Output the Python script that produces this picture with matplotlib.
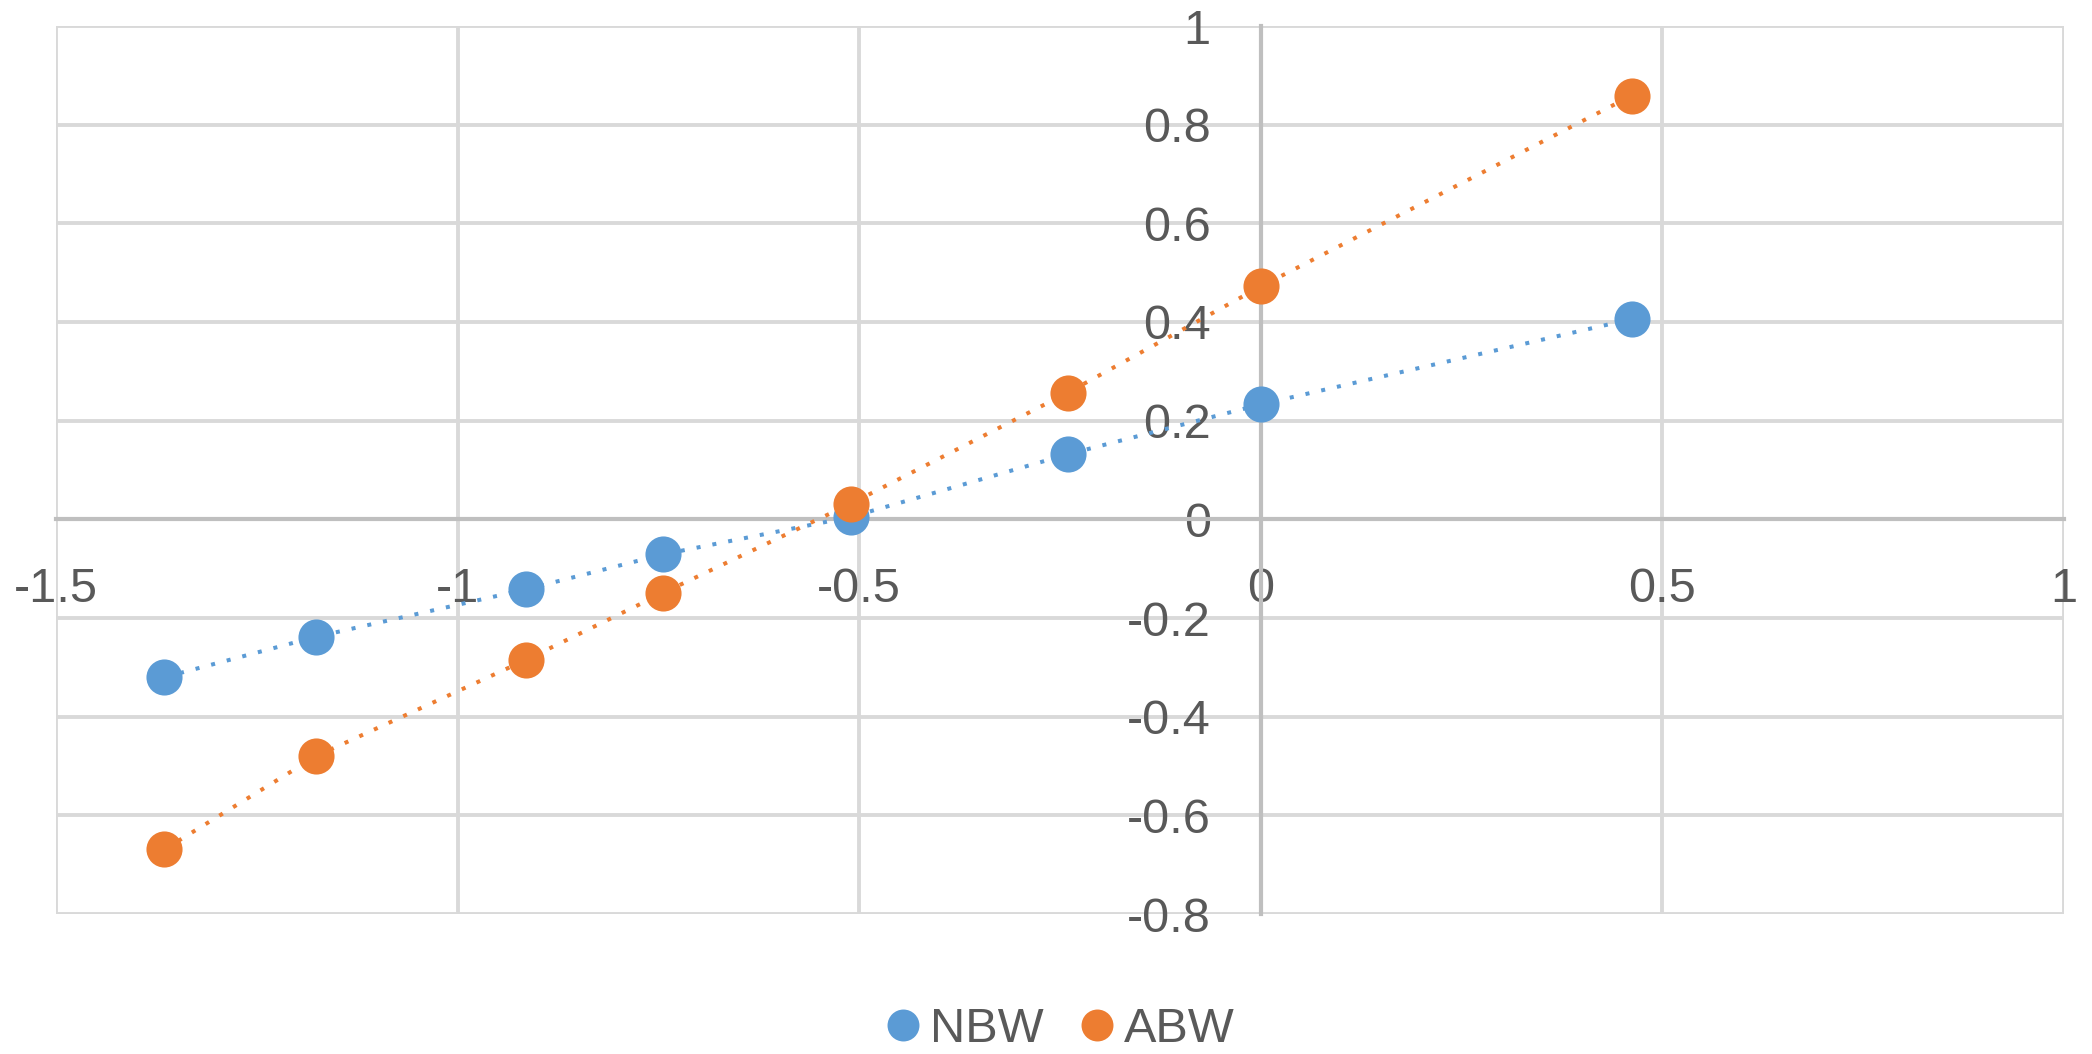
import matplotlib
matplotlib.use("Agg")
import matplotlib.pyplot as plt

# 数据
x_vals = [-1.365, -1.176, -0.915, -0.744, -0.51, -0.24, 0.0, 0.462]
nbw = [-0.32, -0.238, -0.142, -0.071, 0.005, 0.132, 0.233, 0.406]
abw = [-0.669, -0.48, -0.285, -0.149, 0.032, 0.257, 0.472, 0.859]

x_ticks = [-1.5, -1, -0.5, 0, 0.5, 1]
x_labels = ["-1.5", "-1", "-0.5", "0", "0.5", "1"]
y_ticks = [-0.8, -0.6, -0.4, -0.2, 0, 0.2, 0.4, 0.6, 0.8, 1]
y_labels = ["-0.8", "-0.6", "-0.4", "-0.2", "0", "0.2", "0.4", "0.6", "0.8", "1"]

blue = "#5B9BD5"
orange = "#ED7D31"
text_c = "#595959"

plt.rcParams['font.family'] = ['Liberation Sans', 'DejaVu Sans']

fig = plt.figure(figsize=(20.92, 10.54), dpi=100)
ax = fig.add_axes([56 / 2092, 1 - 914 / 1054, (2064 - 56) / 2092, (914 - 26) / 1054])

ax.set_xlim(-1.5, 1)
ax.set_ylim(-0.8, 1)
ax.set_xticks(x_ticks)
ax.set_xticklabels(x_labels)
ax.set_yticks(y_ticks)
ax.set_yticklabels(y_labels)

# 网格与坐标轴
ax.grid(True, color="#D9D9D9", linewidth=2.8)
ax.set_axisbelow(True)
for s in ["top", "right"]:
    ax.spines[s].set_visible(False)
ax.spines["left"].set_position(("data", 0))
ax.spines["bottom"].set_position(("data", 0))
for s in ["left", "bottom"]:
    ax.spines[s].set_color("#BFBFBF")
    ax.spines[s].set_linewidth(3.0)
    ax.spines[s].set_zorder(1.5)
ax.tick_params(axis="both", length=0, labelsize=35, labelcolor=text_c)
ax.tick_params(axis="x", pad=34)
ax.tick_params(axis="y", pad=36)

# 两条数据线
ax.plot(x_vals, nbw, color=blue, linestyle=(0, (1, 3)), linewidth=2.9,
        marker="o", markersize=26, markeredgewidth=0, label="NBW", zorder=3)
ax.plot(x_vals, abw, color=orange, linestyle=(0, (1, 3)), linewidth=2.9,
        marker="o", markersize=26, markeredgewidth=0, label="ABW", zorder=4)

handles = [
    plt.Line2D([], [], color=blue, marker="o", linestyle="none", markersize=23, markeredgewidth=0),
    plt.Line2D([], [], color=orange, marker="o", linestyle="none", markersize=23, markeredgewidth=0),
]
leg = fig.legend(handles, ["NBW", "ABW"], loc="center", bbox_to_anchor=(1057 / 2092, 24 / 1054),
                 ncol=2, frameon=False, fontsize=35, handletextpad=0.05, columnspacing=0.6,
                 handlelength=1.0)
for t in leg.get_texts():
    t.set_color(text_c)

fig.savefig("out.png", dpi=100)
